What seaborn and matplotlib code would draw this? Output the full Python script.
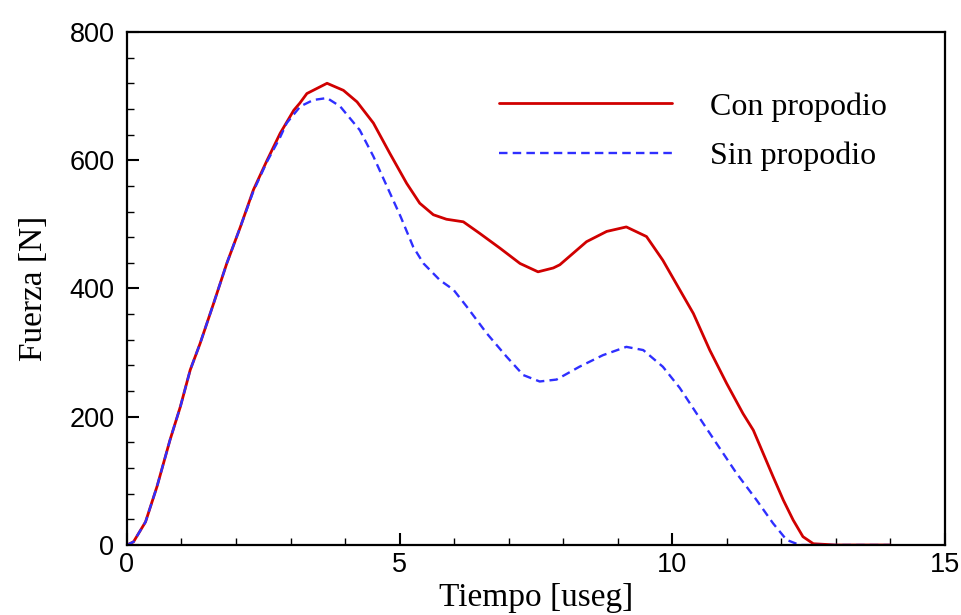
import matplotlib
matplotlib.use("Agg")
import matplotlib.pyplot as plt
import seaborn as sns
import pandas as pd
from matplotlib.ticker import MultipleLocator

# Data
t_con = [0, 0.12, 0.34, 0.55, 0.79, 0.98, 1.16, 1.34, 1.59, 1.83, 2.08, 2.32, 2.57, 2.81,
         3.06, 3.17, 3.30, 3.67, 3.97, 4.22, 4.52, 4.82, 5.13, 5.37, 5.62, 5.86, 6.17,
         6.47, 6.84, 7.21, 7.54, 7.82, 7.94, 8.43, 8.80, 9.16, 9.53, 9.83, 10.14, 10.39,
         10.69, 11.0, 11.30, 11.49, 11.67, 11.85, 12.04, 12.22, 12.40, 12.59, 13.0, 14.0]
f_con = [0, 5, 36, 91, 164, 216, 273, 314, 377, 439, 496, 554, 600, 642,
         678, 689, 704, 720, 709, 691, 658, 611, 564, 533, 515, 508, 504,
         486, 463, 439, 426, 432, 437, 473, 489, 496, 481, 444, 398, 361,
         304, 252, 205, 179, 143, 107, 70, 39, 13, 2, 0, 0]

t_sin = [0, 0.12, 0.34, 0.55, 0.79, 0.98, 1.16, 1.34, 1.59, 1.83, 2.08, 2.32, 2.57, 2.81,
         2.93, 3.18, 3.42, 3.67, 3.91, 4.27, 4.52, 4.77, 5.02, 5.25, 5.44, 5.74, 5.99,
         6.23, 6.60, 6.96, 7.27, 7.57, 7.88, 8.30, 8.73, 9.16, 9.47, 9.83, 10.14, 10.45,
         10.81, 11.18, 11.55, 11.85, 12.10, 12.34, 13.0, 14.0]
f_sin = [0, 5, 36, 91, 164, 216, 273, 314, 377, 439, 496, 552, 598, 636,
         658, 684, 694, 697, 684, 647, 606, 559, 512, 465, 439, 413, 398,
         372, 330, 294, 265, 255, 258, 278, 296, 309, 304, 278, 245, 205,
         159, 112, 70, 34, 8, 0, 0, 0]

labels = ["Con propodio", "Sin propodio"]
x_label = "Tiempo [useg]"
y_label = "Fuerza [N]"

sns.set_style("ticks")
plt.rcParams['font.family'] = ['Liberation Sans', 'DejaVu Sans']
plt.rcParams['text.color'] = 'black'
plt.rcParams['axes.labelcolor'] = 'black'

fig = plt.figure(figsize=(9.62, 6.15), dpi=100)
ax = fig.add_axes([0.132, 0.1138, 0.85, 0.8342])

df_con = pd.DataFrame({"t": t_con, "f": f_con})
df_sin = pd.DataFrame({"t": t_sin, "f": f_sin})

sns.lineplot(data=df_con, x="t", y="f", ax=ax, color="#d00000", linewidth=2.0,
             label=labels[0], sort=False)
sns.lineplot(data=df_sin, x="t", y="f", ax=ax, color="#2f2fff", linewidth=1.7,
             linestyle=(0, (3.6, 2.2)), label=labels[1], sort=False)

ax.set_xlim(0, 15)
ax.set_ylim(0, 800)
ax.xaxis.set_major_locator(MultipleLocator(5))
ax.xaxis.set_minor_locator(MultipleLocator(1))
ax.yaxis.set_major_locator(MultipleLocator(200))
ax.yaxis.set_minor_locator(MultipleLocator(40))
ax.tick_params(which="major", direction="in", length=8.5, width=1.5, color="black",
               labelsize=19.5, labelcolor="black", top=False, right=False)
ax.tick_params(axis="x", which="major", pad=5)
ax.tick_params(axis="y", which="major", pad=9)
ax.tick_params(which="minor", direction="in", length=5, width=1.0, color="black",
               top=False, right=False)
for s in ax.spines.values():
    s.set_linewidth(1.6)
    s.set_color("black")
    s.set_visible(True)

ax.set_xlabel(x_label, fontfamily="Liberation Serif", fontsize=24, labelpad=3)
ax.set_ylabel(y_label, fontfamily="Liberation Serif", fontsize=24, labelpad=15)

leg = ax.legend(loc="upper left", bbox_to_anchor=(0.42, 0.939), frameon=False,
                prop={"family": "Liberation Serif", "size": 23},
                handlelength=5.4, handletextpad=1.2, labelspacing=0.62)

fig.savefig("out.png", dpi=100)
